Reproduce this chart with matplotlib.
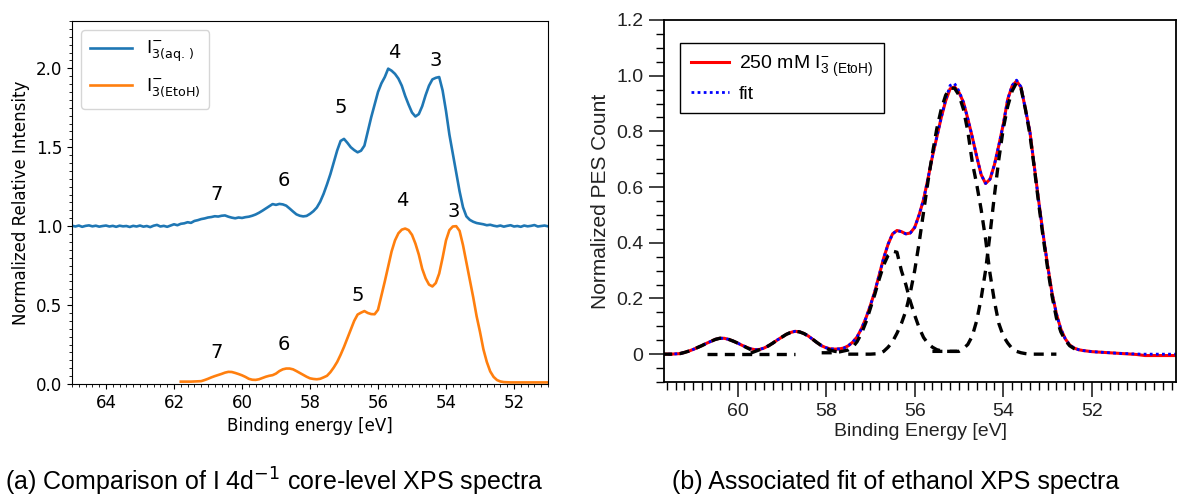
import numpy as np
import matplotlib
matplotlib.use("Agg")
import matplotlib.pyplot as plt
from matplotlib.ticker import MultipleLocator, FuncFormatter

# ---------------- panel (a): I3- in water vs ethanol ----------------
# binding-energy grid of the aqueous spectrum, 65.0 -> 51.0 eV in 0.1 eV steps
be_aq = np.round(np.linspace(65.0, 51.0, 141), 1)
int_aq = [
    1.003, 0.998, 1.004, 0.996, 1.002, 1.005, 0.999, 1.003, 0.997, 1.001,   # 65.0-64.1
    1.004, 0.998, 1.002, 0.996, 1.003, 0.999, 1.001, 0.995, 1.002, 0.998,   # 64.0-63.1
    1.004, 0.997, 1.001, 0.994, 1.003, 1.008, 0.998, 1.002, 0.996, 1.004,   # 63.0-62.1
    1.012, 1.006, 1.015, 1.018, 1.025, 1.021, 1.033, 1.038, 1.045, 1.049,   # 62.0-61.1
    1.055, 1.058, 1.063, 1.061, 1.066, 1.068, 1.060, 1.054, 1.050, 1.055,   # 61.0-60.1
    1.052, 1.057, 1.060, 1.066, 1.074, 1.085, 1.098, 1.112, 1.126, 1.140,   # 60.0-59.1
    1.135, 1.141, 1.138, 1.130, 1.112, 1.093, 1.075, 1.066, 1.062, 1.065,   # 59.0-58.1
    1.078, 1.095, 1.118, 1.155, 1.205, 1.265, 1.330, 1.405, 1.480, 1.540,   # 58.0-57.1
    1.553, 1.528, 1.500, 1.482, 1.468, 1.478, 1.510, 1.600, 1.690, 1.770,   # 57.0-56.1
    1.850, 1.905, 1.945, 1.998, 1.985, 1.965, 1.935, 1.890, 1.825, 1.770,   # 56.0-55.1
    1.720, 1.695, 1.710, 1.760, 1.830, 1.890, 1.930, 1.940, 1.945, 1.860,   # 55.0-54.1
    1.730, 1.580, 1.460, 1.340, 1.220, 1.120, 1.062, 1.040, 1.028, 1.020,   # 54.0-53.1
    1.016, 1.012, 1.006, 1.009, 1.003, 0.999, 1.004, 0.997, 1.002, 1.006,   # 53.0-52.1
    0.998, 1.001, 0.996, 1.004, 0.999, 1.002, 1.007, 0.998, 1.001, 1.004,   # 52.0-51.1
    0.999,                                                                  # 51.0
]

# ethanol spectrum, 61.8 -> 51.0 eV in 0.1 eV steps
be_etoh = np.round(np.linspace(61.8, 51.0, 109), 1)
int_etoh = [
    0.015, 0.015, 0.015, 0.015, 0.016, 0.017, 0.018, 0.025, 0.033, 0.042,   # 61.8-60.9
    0.050, 0.057, 0.064, 0.072, 0.077, 0.076, 0.070, 0.063, 0.055, 0.045,   # 60.8-59.9
    0.033, 0.027, 0.026, 0.030, 0.038, 0.046, 0.052, 0.056, 0.066, 0.082,   # 59.8-58.9
    0.093, 0.098, 0.098, 0.093, 0.082, 0.070, 0.058, 0.046, 0.036, 0.032,   # 58.8-57.9
    0.030, 0.033, 0.042, 0.052, 0.075, 0.105, 0.140, 0.185, 0.235, 0.290,   # 57.8-56.9
    0.345, 0.400, 0.440, 0.452, 0.462, 0.450, 0.443, 0.442, 0.470, 0.560,   # 56.8-55.9
    0.650, 0.745, 0.840, 0.910, 0.955, 0.978, 0.985, 0.975, 0.945, 0.890,   # 55.8-54.9
    0.820, 0.730, 0.670, 0.630, 0.618, 0.640, 0.700, 0.800, 0.910, 0.975,   # 54.8-53.9
    0.998, 1.000, 0.970, 0.880, 0.770, 0.660, 0.550, 0.430, 0.330, 0.220,   # 53.8-52.9
    0.140, 0.080, 0.045, 0.025, 0.016, 0.012, 0.011, 0.010, 0.010, 0.010,   # 52.8-51.9
    0.010, 0.010, 0.010, 0.010, 0.010, 0.010, 0.010, 0.010, 0.010,          # 51.8-51.0
]

# peak labels (energy, height) for each curve
peak_names = ["7", "6", "5", "4", "3"]
peak_pos_aq = [(60.75, 1.20), (58.78, 1.29), (57.11, 1.75), (55.53, 2.10), (54.29, 2.05)]
peak_pos_etoh = [(60.75, 0.20), (58.78, 0.25), (56.60, 0.56), (55.30, 1.16), (53.78, 1.09)]

# ---------------- panel (b): ethanol spectrum with fit ----------------
be_fit = np.round(np.linspace(61.7, 50.1, 117), 1)
pes_data = [
    0.000, 0.000, 0.000, 0.001, 0.002, 0.006, 0.011, 0.017, 0.024, 0.031,   # 61.7-60.8
    0.039, 0.046, 0.053, 0.057, 0.057, 0.053, 0.047, 0.040, 0.032, 0.025,   # 60.7-59.8
    0.019, 0.016, 0.017, 0.022, 0.030, 0.040, 0.051, 0.061, 0.071, 0.078,   # 59.7-58.8
    0.082, 0.080, 0.074, 0.065, 0.053, 0.041, 0.030, 0.023, 0.019, 0.018,   # 58.7-57.8
    0.019, 0.022, 0.030, 0.043, 0.062, 0.092, 0.130, 0.175, 0.225, 0.285,   # 57.7-56.8
    0.345, 0.395, 0.432, 0.444, 0.440, 0.432, 0.435, 0.455, 0.500, 0.555,   # 56.7-55.8
    0.630, 0.710, 0.780, 0.850, 0.910, 0.953, 0.960, 0.940, 0.905, 0.845,   # 55.7-54.8
    0.780, 0.710, 0.645, 0.613, 0.628, 0.680, 0.750, 0.825, 0.915, 0.963,   # 54.7-53.8
    0.981, 0.958, 0.880, 0.800, 0.675, 0.550, 0.430, 0.320, 0.220, 0.145,   # 53.7-52.8
    0.090, 0.055, 0.033, 0.022, 0.016, 0.013, 0.011, 0.009, 0.008, 0.007,   # 52.7-51.8
    0.006, 0.005, 0.004, 0.003, 0.002, 0.001, 0.000, -0.001, -0.003, -0.005,  # 51.7-50.8
    -0.005, -0.005, -0.005, -0.005, -0.005, -0.005, -0.005,                 # 50.7-50.1
]
pes_fit = [
    0.000, 0.000, 0.000, 0.001, 0.002, 0.006, 0.011, 0.017, 0.024, 0.031,
    0.039, 0.046, 0.053, 0.057, 0.057, 0.053, 0.047, 0.040, 0.032, 0.025,
    0.019, 0.016, 0.017, 0.022, 0.030, 0.040, 0.051, 0.061, 0.071, 0.078,
    0.082, 0.080, 0.074, 0.065, 0.053, 0.041, 0.030, 0.023, 0.019, 0.018,
    0.019, 0.022, 0.030, 0.043, 0.062, 0.092, 0.130, 0.175, 0.225, 0.285,
    0.345, 0.395, 0.432, 0.444, 0.440, 0.432, 0.435, 0.455, 0.500, 0.555,
    0.630, 0.710, 0.780, 0.850, 0.915, 0.965, 0.972, 0.945, 0.905, 0.845,
    0.780, 0.710, 0.645, 0.613, 0.628, 0.680, 0.750, 0.825, 0.915, 0.965,
    0.984, 0.960, 0.880, 0.800, 0.675, 0.550, 0.430, 0.320, 0.220, 0.145,
    0.090, 0.055, 0.033, 0.022, 0.016, 0.013, 0.011, 0.009, 0.008, 0.007,
    0.006, 0.005, 0.004, 0.003, 0.002, 0.002, 0.001, 0.001, 0.000, 0.000,
    0.000, 0.000, 0.000, 0.000, 0.000, 0.000, 0.000,
]

# individual fit components
comp7_be = np.round(np.linspace(61.7, 59.7, 21), 1)
comp7_val = [0.000, 0.000, 0.000, 0.001, 0.002, 0.006, 0.011, 0.017, 0.024, 0.031,
             0.039, 0.046, 0.053, 0.057, 0.057, 0.053, 0.047, 0.040, 0.032, 0.024, 0.016]
base_be = [60.7, 58.7]
base_val = [0.0, 0.0]
comp6_be = np.round(np.linspace(59.7, 57.7, 21), 1)
comp6_val = [0.004, 0.010, 0.016, 0.022, 0.030, 0.040, 0.051, 0.061, 0.071, 0.078,
             0.082, 0.080, 0.074, 0.065, 0.053, 0.041, 0.030, 0.021, 0.014, 0.010, 0.008]
comp5_be = [58.1, 57.9, 57.7, 57.5, 57.4, 57.3, 57.2, 57.1, 57.0, 56.9, 56.8, 56.7,
            56.6, 56.5, 56.4, 56.3, 56.2, 56.1, 56.0, 55.9, 55.8, 55.7, 55.6, 55.5,
            55.4, 55.3, 55.2, 55.1, 55.0]
comp5_val = [0.005, 0.005, 0.008, 0.015, 0.025, 0.045, 0.075, 0.115, 0.165, 0.215,
             0.270, 0.320, 0.355, 0.370, 0.366, 0.300, 0.250, 0.190, 0.140, 0.095,
             0.060, 0.038, 0.025, 0.016, 0.012, 0.010, 0.010, 0.010, 0.010]
comp4_be = [57.5, 57.0, 56.8, 56.7, 56.6, 56.5, 56.4, 56.3, 56.2, 56.1, 56.0, 55.9,
            55.8, 55.7, 55.6, 55.5, 55.4, 55.3, 55.2, 55.1, 55.0, 54.9, 54.8, 54.7,
            54.6, 54.5, 54.4, 54.3, 54.2, 54.1, 54.0, 53.9, 53.8, 53.7, 53.6, 53.5,
            53.4, 52.8]
comp4_val = [0.000, 0.000, 0.002, 0.010, 0.025, 0.045, 0.075, 0.110, 0.155, 0.220,
             0.300, 0.400, 0.510, 0.620, 0.720, 0.810, 0.880, 0.930, 0.955, 0.955,
             0.930, 0.880, 0.800, 0.690, 0.610, 0.520, 0.414, 0.290, 0.190, 0.110,
             0.065, 0.040, 0.020, 0.010, 0.005, 0.002, 0.000, 0.000]
comp3_be = [55.6, 55.0, 54.9, 54.8, 54.7, 54.6, 54.5, 54.4, 54.3, 54.2, 54.1, 54.0,
            53.9, 53.8, 53.7, 53.6, 53.5, 53.4, 53.3, 53.2, 53.1, 53.0, 52.9, 52.8,
            52.7, 52.6, 52.5, 52.4, 52.3]
comp3_val = [0.010, 0.010, 0.020, 0.035, 0.065, 0.120, 0.200, 0.300, 0.430, 0.570,
             0.700, 0.810, 0.890, 0.945, 0.975, 0.955, 0.880, 0.790, 0.670, 0.540,
             0.420, 0.310, 0.210, 0.130, 0.080, 0.050, 0.030, 0.020, 0.015]
components = [(comp7_be, comp7_val), (base_be, base_val), (comp6_be, comp6_val),
              (comp5_be, comp5_val), (comp4_be, comp4_val), (comp3_be, comp3_val)]

# ---------------- figure ----------------
W, H = 1177, 497
fig = plt.figure(figsize=(W / 100, H / 100), dpi=100)

# panel (a) in the default matplotlib look
ax1 = fig.add_axes([72 / W, 1 - 384 / H, 476 / W, 363 / H])
ax1.plot(be_aq, int_aq, color="#1f77b4", lw=1.9, label=r"$\mathregular{I_{3(aq.\,)}^{-}}$")
ax1.plot(be_etoh, int_etoh, color="#ff7f0e", lw=1.9, label=r"$\mathregular{I_{3(EtoH)}^{-}}$")
for name, (e, y) in zip(peak_names, peak_pos_aq):
    ax1.text(e, y, name, ha="center", va="center", fontsize=14)
for name, (e, y) in zip(peak_names, peak_pos_etoh):
    ax1.text(e, y, name, ha="center", va="center", fontsize=14)
ax1.set_xlim(65, 51)
ax1.set_ylim(0, 2.3)
ax1.xaxis.set_major_locator(MultipleLocator(2))
ax1.xaxis.set_minor_locator(MultipleLocator(0.2))
ax1.yaxis.set_major_locator(MultipleLocator(0.5))
ax1.yaxis.set_minor_locator(MultipleLocator(0.05))
ax1.tick_params(labelsize=12)
ax1.set_xlabel("Binding energy [eV]", fontsize=12)
ax1.set_ylabel("Normalized Relative Intensity", fontsize=12)
ax1.legend(loc="upper left", fontsize=13, handlelength=2.3, labelspacing=0.7,
           borderpad=0.5)

# panel (b) in an Igor-like look
arial = ["Liberation Sans", "DejaVu Sans"]
ax2 = fig.add_axes([664 / W, 1 - 382 / H, 512 / W, 362 / H])
for be, val in components:
    ax2.plot(be, val, color="black", lw=2.4, ls=(0, (3, 2.2)), zorder=3)
ax2.plot(be_fit, pes_data, color="red", lw=2.2, zorder=1,
         label=r"250 mM $\mathregular{I^{-}_{3\ (EtoH)}}$")
ax2.plot(be_fit, pes_fit, color="blue", lw=2.0, ls=(0, (1, 1.2)), zorder=2, label="fit")
ax2.set_xlim(61.66, 50.1)
ax2.set_ylim(-0.1, 1.2)
ax2.xaxis.set_major_locator(MultipleLocator(2))
ax2.xaxis.set_minor_locator(MultipleLocator(0.2))
ax2.yaxis.set_major_locator(MultipleLocator(0.2))
ax2.yaxis.set_minor_locator(MultipleLocator(0.05))
ax2.yaxis.set_major_formatter(FuncFormatter(lambda v, p: "0" if abs(v) < 1e-9 else f"{v:.1f}"))
ax2.xaxis.set_major_formatter(FuncFormatter(lambda v, p: f"{v:.0f}"))
ax2.tick_params(which="major", length=11, width=1.2, labelsize=14, colors="#222222", pad=4)
ax2.tick_params(which="minor", length=5.5, width=1.0)
for lab in ax2.get_xticklabels() + ax2.get_yticklabels():
    lab.set_family(arial)
for sp in ax2.spines.values():
    sp.set_linewidth(1.3)
ax2.set_xlabel("Binding Energy [eV]", fontsize=14, family=arial, color="#222222", labelpad=2)
ax2.set_ylabel("Normalized PES Count", fontsize=15, family=arial, color="#222222", labelpad=4)
leg = ax2.legend(loc="upper left", bbox_to_anchor=(0.031, 0.936), borderaxespad=0,
                 fancybox=False, edgecolor="black", framealpha=1,
                 prop={"family": arial, "size": 14}, handlelength=2.0,
                 labelspacing=0.3, borderpad=0.55, handletextpad=0.5)
leg.get_frame().set_linewidth(1.0)

# captions
narrow = ["Liberation Sans Narrow", "Liberation Sans", "DejaVu Sans"]
fig.text(5 / W, 1 - 482 / H, r"(a) Comparison of I 4d$^{-1}$ core-level XPS spectra",
         family=narrow, fontsize=18, va="center", ha="left")
fig.text(672 / W, 1 - 482 / H, "(b) Associated fit of ethanol XPS spectra",
         family=narrow, fontsize=18, va="center", ha="left")

fig.savefig("out.png", dpi=100)
